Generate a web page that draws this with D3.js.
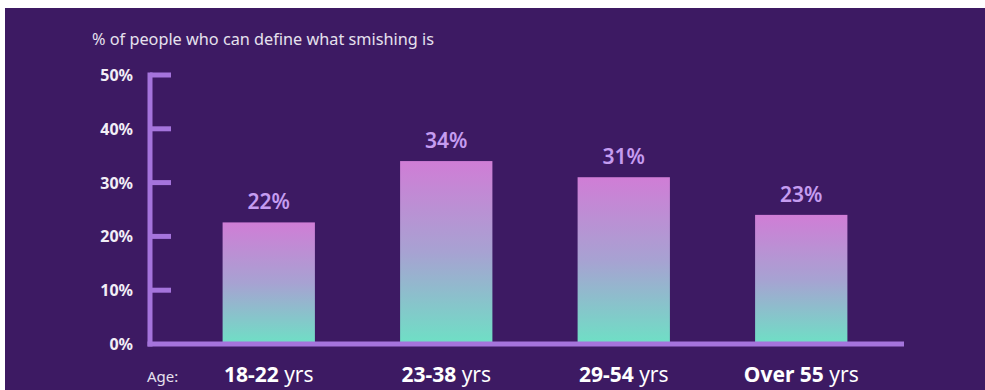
<!DOCTYPE html>
<html>
<head>
<meta charset="utf-8">
<script src="https://cdn.jsdelivr.net/npm/d3@7"></script>
<style>
  html, body { margin: 0; padding: 0; background: #ffffff; }
  svg { display: block; }
</style>
</head>
<body>
<svg id="chart" width="985" height="390"></svg>
<script>
// chart data
var categories = ["18-22", "23-38", "29-54", "Over 55"];
var values = [22.6, 34, 31, 24];          // bar heights
var valueLabels = ["22%", "34%", "31%", "23%"];
var yTicks = [0, 10, 20, 30, 40, 50];

var svg = d3.select("#chart");
var font = "'Noto Sans', 'Open Sans', sans-serif";

// background panel (white strip on top and left like the screenshot)
svg.append("rect")
    .attr("x", 5).attr("y", 8)
    .attr("width", 980).attr("height", 382)
    .attr("fill", "#3d1a63");

// gradient for the bars
var grad = svg.append("defs").append("linearGradient")
    .attr("id", "barGrad")
    .attr("x1", 0).attr("y1", 0).attr("x2", 0).attr("y2", 1);
grad.append("stop").attr("offset", "0%").attr("stop-color", "#d07dd6");
grad.append("stop").attr("offset", "50%").attr("stop-color", "#a7a2d2");
grad.append("stop").attr("offset", "100%").attr("stop-color", "#6ee0c5");

var x = d3.scaleBand()
    .domain(categories)
    .range([180, 890])
    .paddingInner(0.48)
    .paddingOuter(0.24);

var y = d3.scaleLinear()
    .domain([0, 50])
    .range([344, 75]);

// title
svg.append("text")
    .attr("x", 92).attr("y", 45)
    .attr("fill", "#e6e1ee")
    .attr("font-family", font)
    .attr("font-size", 15.5)
    .attr("textLength", 342)
    .attr("lengthAdjust", "spacingAndGlyphs")
    .text("% of people who can define what smishing is");

// bars
svg.selectAll("rect.bar")
    .data(values)
    .enter().append("rect")
    .attr("class", "bar")
    .attr("x", function(d, i){ return x(categories[i]); })
    .attr("y", function(d){ return y(d); })
    .attr("width", x.bandwidth())
    .attr("height", function(d){ return y(0) - y(d); })
    .attr("fill", "url(#barGrad)");

// value labels
svg.selectAll("text.value")
    .data(values)
    .enter().append("text")
    .attr("class", "value")
    .attr("x", function(d, i){ return x(categories[i]) + x.bandwidth() / 2; })
    .attr("y", function(d){ return y(d) - 13; })
    .attr("text-anchor", "middle")
    .attr("fill", "#c59cf0")
    .attr("font-family", font)
    .attr("font-weight", 600)
    .attr("font-size", 21)
    .text(function(d, i){ return valueLabels[i]; });

// y axis line and ticks
var axisColor = "#a574dc";
svg.append("line")
    .attr("x1", 150).attr("x2", 150)
    .attr("y1", y(50) - 2.5).attr("y2", y(0) + 2.5)
    .attr("stroke", axisColor).attr("stroke-width", 5);

svg.selectAll("line.tick")
    .data(yTicks.filter(function(d){ return d > 0; }))
    .enter().append("line")
    .attr("class", "tick")
    .attr("x1", 150).attr("x2", 171)
    .attr("y1", function(d){ return y(d); })
    .attr("y2", function(d){ return y(d); })
    .attr("stroke", axisColor).attr("stroke-width", 5);

// baseline
svg.append("line")
    .attr("x1", 147.5).attr("x2", 904)
    .attr("y1", y(0)).attr("y2", y(0))
    .attr("stroke", axisColor).attr("stroke-width", 5);

// y tick labels
svg.selectAll("text.ylab")
    .data(yTicks)
    .enter().append("text")
    .attr("class", "ylab")
    .attr("x", 133)
    .attr("y", function(d){ return y(d) + 6; })
    .attr("text-anchor", "end")
    .attr("fill", "#f2eef6")
    .attr("font-family", font)
    .attr("font-weight", 700)
    .attr("font-size", 16)
    .text(function(d){ return d + "%"; });

// x labels
svg.append("text")
    .attr("x", 147).attr("y", 382)
    .attr("fill", "#e6e1ee")
    .attr("font-family", font)
    .attr("font-size", 15)
    .text("Age:");

var xl = svg.selectAll("text.xlab")
    .data(categories)
    .enter().append("text")
    .attr("class", "xlab")
    .attr("x", function(d){ return x(d) + x.bandwidth() / 2; })
    .attr("y", 382)
    .attr("text-anchor", "middle")
    .attr("fill", "#ffffff")
    .attr("font-family", font)
    .attr("font-size", 21);
xl.append("tspan").attr("font-weight", 700).text(function(d){ return d; });
xl.append("tspan").attr("font-weight", 400).text(" yrs");
</script>
</body>
</html>
